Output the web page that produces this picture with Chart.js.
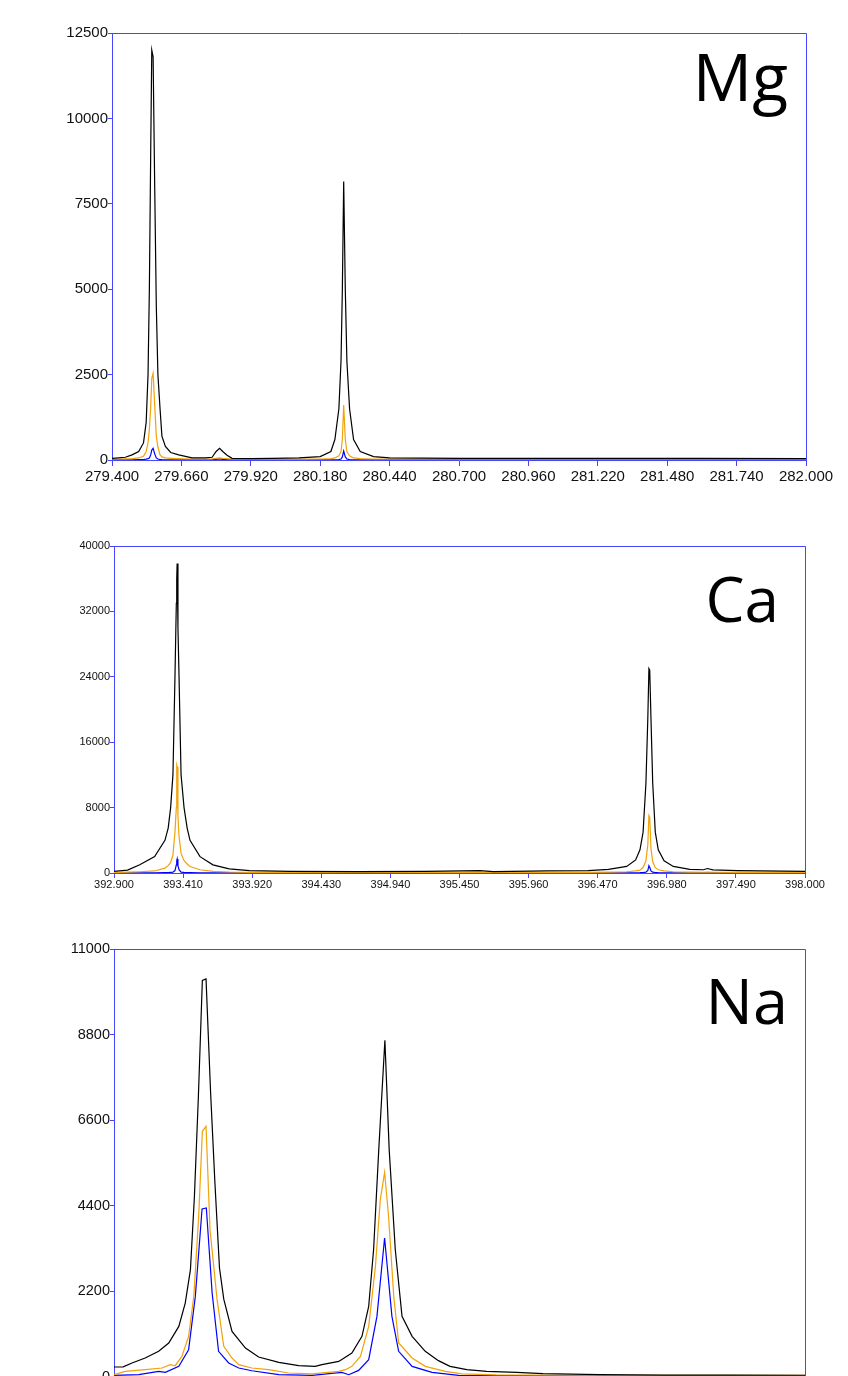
<!DOCTYPE html>
<html>
<head>
<meta charset="utf-8">
<script src="https://cdn.jsdelivr.net/npm/chart.js@4.4.0/dist/chart.umd.min.js"></script>
<style>
  html, body { margin: 0; padding: 0; background: #fff; width: 848px; height: 1376px; overflow: hidden; }
  canvas { position: absolute; left: 0; }
</style>
</head>
<body>
<canvas id="mg" width="848" height="490" style="top:0px"></canvas>
<canvas id="ca" width="848" height="390" style="top:500px"></canvas>
<canvas id="na" width="848" height="500" style="top:900px"></canvas>
<script>
// element labels drawn in the top right corner of each panel
const elementLabels = ["Mg", "Ca", "Na"];

// --- Mg panel (wavelength nm / counts) ---
const mgWave = [279.400, 279.450, 279.475, 279.500, 279.518, 279.528, 279.535, 279.540, 279.545, 279.549,
  279.554, 279.560, 279.566, 279.572, 279.580, 279.587, 279.600, 279.620, 279.650, 279.700,
  279.750, 279.775, 279.790, 279.803, 279.815, 279.831, 279.850, 279.920, 280.000, 280.100,
  280.180, 280.220, 280.235, 280.250, 280.258, 280.263, 280.268, 280.274, 280.280, 280.290,
  280.305, 280.330, 280.380, 280.440, 280.700, 281.000, 281.300, 281.600, 282.000];
const mgBlack = [50, 80, 150, 250, 500, 1100, 2500, 5000, 9000, 12000,
  11800, 8000, 4500, 2500, 1500, 700, 400, 220, 150, 60,
  60, 80, 250, 345, 250, 140, 50, 40, 45, 60,
  100, 250, 600, 1500, 2900, 5000, 8150, 5000, 2900, 1500,
  600, 250, 100, 60, 50, 45, 50, 45, 40];
const mgOrange = [30, 35, 40, 60, 110, 250, 500, 900, 1550, 2390,
  2540, 1600, 700, 380, 150, 90, 60, 50, 40, 30,
  30, 35, 50, 60, 50, 40, 30, 25, 25, 25,
  30, 40, 60, 120, 250, 600, 1610, 600, 250, 120,
  60, 40, 30, 30, 30, 30, 30, 30, 25];
const mgBlue = [5, 5, 5, 10, 15, 25, 40, 60, 150, 290,
  340, 180, 60, 30, 15, 10, 5, 5, 5, 5,
  5, 10, 20, 30, 20, 10, 5, 5, 5, 5,
  5, 5, 5, 10, 30, 90, 265, 90, 30, 10,
  5, 5, 5, 5, 5, 5, 5, 5, 5];
const mgXTicks = [279.400, 279.660, 279.920, 280.180, 280.440, 280.700, 280.960, 281.220, 281.480, 281.740, 282.000];
const mgYTicks = [0, 2500, 5000, 7500, 10000, 12500];

// --- Ca panel ---
const caWave = [392.900, 393.000, 393.090, 393.200, 393.276, 393.300, 393.318, 393.335, 393.350, 393.360,
  393.363, 393.366, 393.372, 393.380, 393.395, 393.417, 393.440, 393.461,
  393.535, 393.630, 393.750, 393.900, 394.200, 394.700, 395.200, 395.600, 395.700, 396.100,
  396.400, 396.550, 396.684, 396.750, 396.782, 396.805, 396.826, 396.840, 396.848, 396.854,
  396.863, 396.876, 396.895, 396.917, 396.960, 397.028, 397.150, 397.250, 397.280, 397.320,
  397.500, 398.000];
const caBlack = [200, 350, 1000, 2000, 4000, 5500, 8000, 12000, 24000, 33000,
  36000, 37850, 30000, 24000, 12000, 8000, 5500, 4000,
  2000, 1000, 500, 300, 200, 180, 200, 300, 180, 250,
  300, 450, 800, 1600, 2845, 5000, 11000, 19000, 25000, 24800,
  19000, 11000, 5000, 2845, 1500, 805, 450, 400, 550, 380,
  300, 200];
const caOrange = [60, 100, 150, 250, 600, 900, 1300, 2200, 5000, 8000,
  13200, 13000, 7000, 4500, 2400, 1500, 1100, 800,
  400, 200, 120, 80, 60, 50, 60, 70, 50, 60,
  80, 100, 150, 250, 350, 700, 1500, 3500, 7030, 6800,
  3000, 1400, 650, 400, 250, 150, 100, 90, 100, 90,
  80, 60];
const caBlue = [10, 15, 20, 30, 50, 60, 80, 100, 300, 1000,
  1500, 1710, 900, 400, 100, 70, 50, 40,
  30, 20, 15, 10, 10, 10, 10, 10, 10, 10,
  10, 15, 20, 30, 40, 60, 100, 300, 890, 700,
  250, 100, 60, 40, 30, 20, 15, 12, 15, 12,
  10, 10];
const caXTicks = [392.900, 393.410, 393.920, 394.430, 394.940, 395.450, 395.960, 396.470, 396.980, 397.490, 398.000];
const caYTicks = [0, 8000, 16000, 24000, 32000, 40000];

// --- Na panel (each trace has its own sample positions) ---
const naWaveBlack = [588.700, 588.730, 588.759, 588.802, 588.846, 588.879, 588.912, 588.933, 588.950, 588.963,
  588.976, 588.989, 589.001, 589.016, 589.030, 589.045, 589.059, 589.086, 589.130, 589.173,
  589.239, 589.304, 589.358, 589.380, 589.435, 589.478, 589.511, 589.533, 589.549, 589.566,
  589.586, 589.600, 589.620, 589.642, 589.675, 589.718, 589.761, 589.799, 589.854, 589.919,
  590.017, 590.103, 590.290, 590.505, 590.724, 590.960];
const naBlack = [257, 260, 360, 488, 660, 874, 1300, 1900, 2760, 4640,
  7210, 10195, 10230, 7300, 5000, 2800, 2000, 1172, 745, 514,
  375, 290, 273, 316, 401, 617, 1045, 1815, 3272, 5850,
  8653, 5850, 3272, 1558, 1045, 660, 420, 273, 190, 145,
  120, 85, 60, 50, 50, 45];
const naWaveOrange = [588.700, 588.737, 588.802, 588.857, 588.884, 588.900, 588.922, 588.944, 588.961, 588.977,
  588.989, 589.001, 589.014, 589.037, 589.059, 589.086, 589.108, 589.151, 589.206, 589.271,
  589.348, 589.435, 589.457, 589.478, 589.506, 589.533, 589.555, 589.571, 589.585, 589.598,
  589.615, 589.631, 589.675, 589.718, 589.784, 589.838, 589.950, 590.200, 590.500, 590.960];
const naOrange = [59, 145, 188, 231, 316, 290, 530, 1045, 2072, 4130,
  6314, 6442, 3787, 2000, 787, 488, 316, 231, 188, 103,
  80, 145, 188, 273, 530, 1300, 2843, 4558, 5260, 4130,
  2072, 874, 488, 273, 145, 80, 55, 45, 40, 40];
const naWaveBlue = [588.700, 588.781, 588.846, 588.868, 588.912, 588.944, 588.966, 588.988, 589.002, 589.021,
  589.042, 589.075, 589.108, 589.151, 589.239, 589.348, 589.445, 589.468, 589.500, 589.533,
  589.560, 589.585, 589.609, 589.631, 589.675, 589.740, 589.827, 590.000, 590.400, 590.960];
const naBlue = [41, 59, 145, 120, 273, 702, 2072, 4319, 4344, 2157,
  660, 360, 231, 160, 59, 41, 120, 59, 170, 445,
  1558, 3573, 1558, 660, 273, 120, 41, 35, 30, 30];
const naXTicks = [588.700, 588.926, 589.152, 589.378, 589.604, 589.830, 590.056, 590.282, 590.508, 590.734, 590.960];
const naYTicks = [0, 2200, 4400, 6600, 8800, 11000];

const AXIS_BLUE = "#4545ff";
const TRACE_COLORS = ["#000000", "#f0a30a", "#0000ff"];

const toPoints = (xs, ys) => xs.map((x, i) => ({ x, y: ys[i] }));

const panelFrame = {
  id: "panelFrame",
  afterDatasetsDraw(chart, args, opts) {
    const { ctx, chartArea: a } = chart;
    ctx.save();
    ctx.strokeStyle = AXIS_BLUE;
    ctx.lineWidth = 1;
    ctx.beginPath();
    ctx.moveTo(Math.round(a.left) + 0.5, Math.round(a.top) + 0.5);
    ctx.lineTo(Math.round(a.right) + 0.5, Math.round(a.top) + 0.5);
    ctx.lineTo(Math.round(a.right) + 0.5, Math.round(a.bottom) + 0.5);
    ctx.stroke();
    ctx.fillStyle = "#000";
    ctx.font = opts.size + 'px "Open Sans", "Noto Sans", sans-serif';
    ctx.textAlign = "right";
    ctx.textBaseline = "alphabetic";
    ctx.fillText(opts.text, opts.x, opts.y);
    ctx.restore();
  },
};

function spectrumChart(id, p) {
  const fixTicks = (vals) => (scale) => { scale.ticks = vals.map((v) => ({ value: v })); };
  return new Chart(document.getElementById(id), {
    type: "scatter",
    data: {
      datasets: p.traces.map((t, i) => ({
        data: t,
        showLine: true,
        borderColor: TRACE_COLORS[i],
        borderWidth: 1.2,
        pointRadius: 0,
        pointHoverRadius: 0,
        tension: 0,
      })),
    },
    options: {
      responsive: false,
      animation: false,
      events: [],
      layout: { padding: { left: 0, right: p.padRight, top: p.padTop, bottom: 0 } },
      plugins: {
        legend: { display: false },
        tooltip: { enabled: false },
        panelFrame: { text: p.label, x: p.labelX, y: p.labelY, size: p.labelSize },
      },
      scales: {
        x: {
          type: "linear",
          min: p.xTicks[0],
          max: p.xTicks[p.xTicks.length - 1],
          afterBuildTicks: fixTicks(p.xTicks),
          afterFit: (s) => { s.height = p.xHeight; },
          border: { color: AXIS_BLUE, width: 1 },
          grid: { drawOnChartArea: false, color: AXIS_BLUE, tickColor: AXIS_BLUE, tickLength: p.xTickLen },
          ticks: {
            autoSkip: false, maxRotation: 0, padding: p.xPad, color: "#111",
            font: { family: "Arial, 'Liberation Sans', sans-serif", size: p.font },
            callback: (v) => Number(v).toFixed(3),
          },
        },
        y: {
          type: "linear",
          min: 0,
          max: p.yTicks[p.yTicks.length - 1],
          afterBuildTicks: fixTicks(p.yTicks),
          afterFit: (s) => { s.width = p.yWidth; },
          border: { color: AXIS_BLUE, width: 1 },
          grid: { drawOnChartArea: false, color: AXIS_BLUE, tickColor: AXIS_BLUE, tickLength: 4 },
          ticks: {
            autoSkip: false, padding: 0, color: "#111",
            font: { family: "Arial, 'Liberation Sans', sans-serif", size: p.font },
            callback: (v) => String(v),
          },
        },
      },
    },
    plugins: [panelFrame],
  });
}

spectrumChart("mg", {
  traces: [toPoints(mgWave, mgBlack), toPoints(mgWave, mgOrange), toPoints(mgWave, mgBlue)],
  xTicks: mgXTicks, yTicks: mgYTicks,
  padTop: 33, padRight: 42, yWidth: 112, xHeight: 30, xTickLen: 6, xPad: 2, font: 15,
  label: elementLabels[0], labelX: 788, labelY: 101, labelSize: 66,
});

spectrumChart("ca", {
  traces: [toPoints(caWave, caBlack), toPoints(caWave, caOrange), toPoints(caWave, caBlue)],
  xTicks: caXTicks, yTicks: caYTicks,
  padTop: 46, padRight: 43, yWidth: 114, xHeight: 17, xTickLen: 5, xPad: 0, font: 11,
  label: elementLabels[1], labelX: 779, labelY: 122, labelSize: 62,
});

spectrumChart("na", {
  traces: [toPoints(naWaveBlack, naBlack), toPoints(naWaveOrange, naOrange), toPoints(naWaveBlue, naBlue)],
  xTicks: naXTicks, yTicks: naYTicks,
  padTop: 49, padRight: 43, yWidth: 114, xHeight: 23, xTickLen: 6, xPad: 2, font: 14.5,
  label: elementLabels[2], labelX: 788, labelY: 124, labelSize: 63,
});
</script>
</body>
</html>
